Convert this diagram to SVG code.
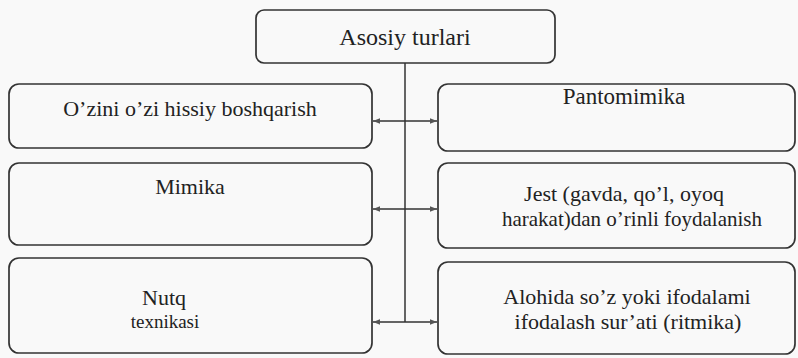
<svg xmlns="http://www.w3.org/2000/svg" width="798" height="358" viewBox="0 0 798 358">
<style>
.box{fill:none;stroke:#333;stroke-width:1.7}
text{font-family:'Liberation Serif','DejaVu Serif','Times New Roman',serif;font-size:22px;fill:#222;text-anchor:middle}
.c{fill:none;stroke:#333;stroke-width:1.5}
</style>
<defs>
<marker id="ah" viewBox="0 0 10 10" refX="10" refY="5" markerWidth="7" markerHeight="7" markerUnits="userSpaceOnUse" orient="auto-start-reverse">
<path d="M0,1 L10,5 L0,9 z" fill="#555"/>
</marker>
</defs>
<rect width="798" height="358" fill="#f9f9f9"/>
<g id="connectors">
<line class="c" x1="405" y1="63" x2="405" y2="322"/>
<line class="c" x1="373" y1="121" x2="437" y2="121" marker-start="url(#ah)" marker-end="url(#ah)"/>
<line class="c" x1="373" y1="209" x2="437" y2="209" marker-start="url(#ah)" marker-end="url(#ah)"/>
<line class="c" x1="373" y1="322" x2="437" y2="322" marker-start="url(#ah)" marker-end="url(#ah)"/>
</g>
<g id="top">
<rect class="box" x="256" y="10" width="299" height="53" rx="8"/>
<text x="405" y="45" style="font-size:24px">Asosiy turlari</text>
</g>
<g id="left1">
<rect class="box" x="9" y="84" width="363" height="64" rx="10"/>
<text x="190" y="116">O’zini o’zi hissiy boshqarish</text>
</g>
<g id="right1">
<rect class="box" x="438" y="84" width="357" height="67" rx="10"/>
<text x="624" y="104" style="font-size:23px">Pantomimika</text>
</g>
<g id="left2">
<rect class="box" x="9" y="163" width="363" height="82" rx="10"/>
<text x="190" y="194">Mimika</text>
</g>
<g id="right2">
<rect class="box" x="438" y="163" width="357" height="85" rx="10"/>
<text x="624" y="201">Jest (gavda, qo’l, oyoq</text>
<text x="632" y="226" style="font-size:21px">harakat)dan o’rinli foydalanish</text>
</g>
<g id="left3">
<rect class="box" x="9" y="258" width="363" height="95" rx="10"/>
<text x="164" y="305">Nutq</text>
<text x="165" y="328" style="font-size:19px">texnikasi</text>
</g>
<g id="right3">
<rect class="box" x="438" y="262" width="357" height="92" rx="10"/>
<text x="627" y="304">Alohida so’z yoki ifodalami</text>
<text x="628" y="329">ifodalash sur’ati (ritmika)</text>
</g>
</svg>
